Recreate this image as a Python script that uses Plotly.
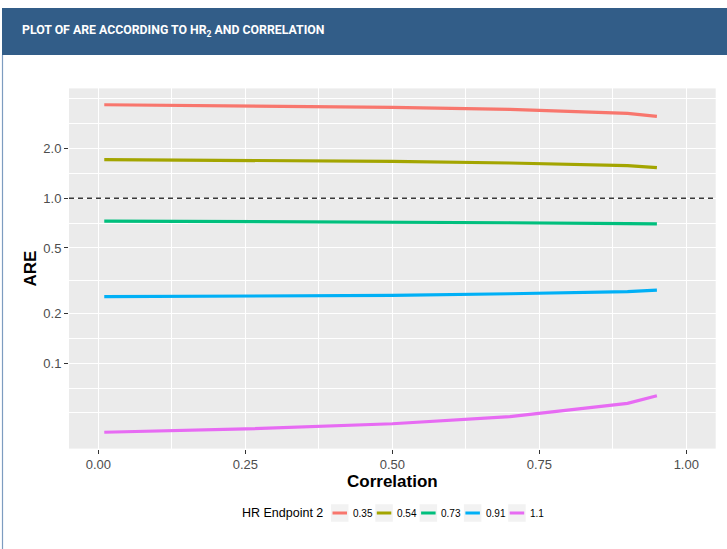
import plotly.graph_objects as go

# ---- data ----
correlation = [0.01, 0.25, 0.5, 0.7, 0.9, 0.95]
hr_labels = ["0.35", "0.54", "0.73", "0.91", "1.1"]
are_035 = [3.69, 3.64, 3.56, 3.46, 3.27, 3.14]
are_054 = [1.714, 1.699, 1.676, 1.636, 1.576, 1.533]
are_073 = [0.728, 0.724, 0.718, 0.711, 0.702, 0.699]
are_091 = [0.2535, 0.2555, 0.258, 0.264, 0.2717, 0.278]
are_110 = [0.0382, 0.0400, 0.0430, 0.0475, 0.0572, 0.0636]
series = [are_035, are_054, are_073, are_091, are_110]
colors = ["#F8766D", "#A3A500", "#00BF7D", "#00B0F6", "#E76BF3"]

y_ticks = [0.1, 0.2, 0.5, 1.0, 2.0]
y_tick_text = ["0.1", "0.2", "0.5", "1.0", "2.0"]
y_minor = [0.05, 0.0707, 0.1414, 0.3162, 0.7071, 1.4142, 2.8284, 4.0]
x_ticks = [0, 0.25, 0.5, 0.75, 1.0]
x_tick_text = ["0.00", "0.25", "0.50", "0.75", "1.00"]
x_minor = [0.125, 0.375, 0.625, 0.875]

W, H = 727, 549
def px(x):
    return x / W
def py(y):
    return 1 - y / H

fig = go.Figure()
for lab, vals, col in zip(hr_labels, series, colors):
    fig.add_trace(go.Scatter(x=correlation, y=vals, mode="lines", name=lab,
                             line=dict(color=col, width=3.2), showlegend=False))

fig.add_hline(y=1, line=dict(color="#3A3A3A", width=1.5, dash="5px,4px"))

FONT = "Liberation Sans, Arial, sans-serif"
axis_font = dict(family=FONT, size=13, color="#4D4D4D")
fig.update_layout(
    width=W, height=H,
    margin=dict(l=0, r=0, t=0, b=0),
    paper_bgcolor="white",
    plot_bgcolor="#EBEBEB",
    xaxis=dict(domain=[px(69), px(715.7)], range=[-0.05, 1.05],
               tickvals=x_ticks, ticktext=x_tick_text, tickfont=axis_font,
               ticks="outside", ticklen=4, tickcolor="#333333", tickwidth=1,
               showgrid=True, gridcolor="white", gridwidth=1.1, zeroline=False,
               showline=False,
               minor=dict(tickvals=x_minor, showgrid=True, gridcolor="white",
                          gridwidth=0.55, ticklen=0),
               title=dict(text="<b>Correlation</b>", standoff=2,
                          font=dict(family=FONT, size=17, color="black"))),
    yaxis=dict(domain=[py(448.6), py(88.4)], type="log", range=[-1.517, 0.666],
               tickvals=y_ticks, ticktext=y_tick_text, tickfont=axis_font,
               ticks="outside", ticklen=4, tickcolor="#333333", tickwidth=1,
               showgrid=True, gridcolor="white", gridwidth=1.1, zeroline=False,
               showline=False,
               minor=dict(tickvals=y_minor, showgrid=True, gridcolor="white",
                          gridwidth=0.55, ticklen=0),
               title=dict(text="<b>ARE</b>", standoff=2,
                          font=dict(family=FONT, size=17, color="black"))),
)

# header bar and container border
fig.add_shape(type="rect", xref="paper", yref="paper", x0=px(2), x1=px(727), y0=py(55), y1=py(8),
              fillcolor="#325D88", line=dict(width=0), layer="below")
fig.add_shape(type="line", xref="paper", yref="paper", x0=px(2.5), x1=px(2.5), y0=py(549), y1=py(55),
              line=dict(color="#7D9CC0", width=1.2))
fig.add_annotation(xref="paper", yref="paper", x=px(20), y=py(31), xanchor="left", yanchor="middle",
                   text="<b>PLOT OF ARE ACCORDING TO HR<sub>2</sub> AND CORRELATION</b>",
                   showarrow=False, font=dict(family="Roboto, sans-serif", size=12.3, color="white"))

# legend (manual, ggplot style)
leg_y = 513
fig.add_annotation(xref="paper", yref="paper", x=px(325), y=py(leg_y), xanchor="right", yanchor="middle",
                   text="HR Endpoint 2", showarrow=False,
                   font=dict(family=FONT, size=12.5, color="black"))
key0, step, ksz = 331, 44.3, 17.5
for i, (lab, col) in enumerate(zip(hr_labels, colors)):
    kx = key0 + i * step
    fig.add_shape(type="rect", xref="paper", yref="paper", x0=px(kx), x1=px(kx + ksz),
                  y0=py(leg_y + ksz / 2), y1=py(leg_y - ksz / 2),
                  fillcolor="#F2F2F2", line=dict(width=0))
    fig.add_shape(type="line", xref="paper", yref="paper", x0=px(kx + 1.5), x1=px(kx + ksz - 1.5),
                  y0=py(leg_y), y1=py(leg_y), line=dict(color=col, width=3))
    fig.add_annotation(xref="paper", yref="paper", x=px(kx + ksz + 2.3), y=py(leg_y),
                       xanchor="left", yanchor="middle", text=lab, showarrow=False,
                       font=dict(family=FONT, size=10, color="black"))

fig.write_html("out.html", config={"displayModeBar": False},
               post_script="document.body.style.margin='0';")
